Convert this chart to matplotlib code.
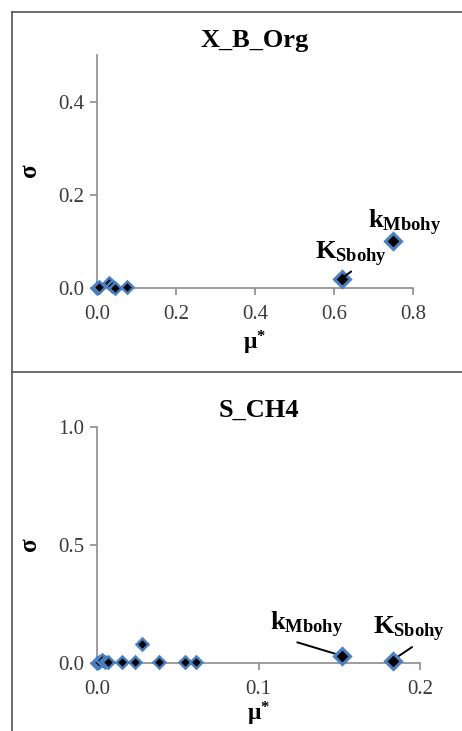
import matplotlib
matplotlib.use("Agg")
import matplotlib.pyplot as plt
from matplotlib.lines import Line2D

plt.rcParams['font.family'] = ['Liberation Serif', 'DejaVu Serif']
plt.rcParams['mathtext.fontset'] = 'custom'
plt.rcParams['mathtext.rm'] = 'Liberation Serif'
plt.rcParams['mathtext.it'] = 'Liberation Serif:italic'
plt.rcParams['mathtext.bf'] = 'Liberation Serif:bold'

# Panel 1: X_B_Org
mu1 = [0.0, 0.005, 0.030, 0.038, 0.045, 0.075, 0.620, 0.750]
sg1 = [0.0, 0.003, 0.010, 0.004, 0.000, 0.003, 0.020, 0.100]
big1 = [False, False, False, False, False, False, True, True]

# Panel 2: S_CH4
mu2 = [0.0, 0.001, 0.003, 0.005, 0.007, 0.0155, 0.0235, 0.0277,
       0.0386, 0.0545, 0.0613, 0.1515, 0.183]
sg2 = [0.0, 0.004, 0.012, 0.003, 0.005, 0.004, 0.005, 0.080,
       0.004, 0.005, 0.004, 0.030, 0.010]
big2 = [False] * 11 + [True, True]

W, H = 462, 731
fig = plt.figure(figsize=(W / 100, H / 100), dpi=100)

BLUE = "#4a7fc0"
SPINE = "#8c8c8c"


def px_axes(x0, y_bottom, x1, y_top):
    return fig.add_axes([x0 / W, 1 - y_bottom / H, (x1 - x0) / W, (y_bottom - y_top) / H])


def style(ax, xmax, ymax, xticks, yticks, title, title_y, xlabelpad=4):
    ax.set_xlim(0, xmax)
    ax.set_ylim(0, ymax)
    ax.set_xticks(xticks)
    ax.set_yticks(yticks)
    ax.set_xticklabels([f"{v:.1f}" for v in xticks])
    ax.set_yticklabels([f"{v:.1f}" for v in yticks])
    for s in ("top", "right"):
        ax.spines[s].set_visible(False)
    for s in ("left", "bottom"):
        ax.spines[s].set_color(SPINE)
        ax.spines[s].set_linewidth(1.2)
    ax.tick_params(direction="out", length=5, color=SPINE, width=1.2,
                   labelsize=15, labelcolor="#3a3a3a", pad=4)
    ax.tick_params(axis="x", pad=7)
    ax.set_xlabel(r"$\mathbf{\mu}^{\mathbf{*}}$", fontsize=17, labelpad=xlabelpad)
    ax.set_ylabel(r"$\mathbf{\sigma}$", fontsize=18, labelpad=12)
    ax.patch.set_alpha(0)
    ax.set_title(title, fontsize=19, fontweight="bold", pad=0, y=title_y)


def points(ax, mu, sg, big):
    for x, y, b in zip(mu, sg, big):
        ax.plot([x], [y], marker="D", markersize=8.5 if b else 6.5,
                markerfacecolor="black", markeredgecolor=BLUE,
                markeredgewidth=2.2 if b else 1.8, linestyle="none",
                clip_on=False, zorder=5)


# top panel
ax1 = px_axes(97, 288, 413, 55)
style(ax1, 0.8, 0.5, [0.0, 0.2, 0.4, 0.6, 0.8], [0.0, 0.2, 0.4],
      "X_B_Org", 1.035)
points(ax1, mu1, sg1, big1)
ax1.annotate(r"$\mathbf{K_{Sbohy}}$", xy=(0.622, 0.022), xytext=(0.553, 0.062),
             fontsize=19, arrowprops=dict(arrowstyle="-", color="black", lw=1.4,
                                          shrinkA=0, shrinkB=1,
                                          relpos=(0.55, 0.0)),
             zorder=6)
ax1.text(0.685, 0.128, r"$\mathbf{k_{Mbohy}}$", fontsize=19)

# bottom panel
ax2 = px_axes(97, 663, 420, 427)
style(ax2, 0.2, 1.0, [0.0, 0.1, 0.2], [0.0, 0.5, 1.0],
      "S_CH4", 1.045, xlabelpad=1)
points(ax2, mu2, sg2, big2)
ax2.annotate(r"$\mathbf{k_{Mbohy}}$", xy=(0.150, 0.034), xytext=(0.107, 0.14),
             fontsize=19, arrowprops=dict(arrowstyle="-", color="black", lw=1.4,
                                          shrinkA=0, shrinkB=3,
                                          relpos=(0.25, 0.0)))
ax2.annotate(r"$\mathbf{K_{Sbohy}}$", xy=(0.183, 0.012), xytext=(0.171, 0.12),
             fontsize=19, arrowprops=dict(arrowstyle="-", color="black", lw=1.4,
                                          shrinkA=0, shrinkB=2,
                                          relpos=(0.6, 0.0)))

# frame lines
frame = "#555555"
fig.add_artist(Line2D([12 / W, 12 / W], [0, 1 - 12 / H], color=frame, lw=1.2))
fig.add_artist(Line2D([12 / W, 1], [1 - 12 / H, 1 - 12 / H], color=frame, lw=1.2))
fig.add_artist(Line2D([12 / W, 1], [1 - 372 / H, 1 - 372 / H], color=frame, lw=1.2))

fig.savefig("out.png", dpi=100)
